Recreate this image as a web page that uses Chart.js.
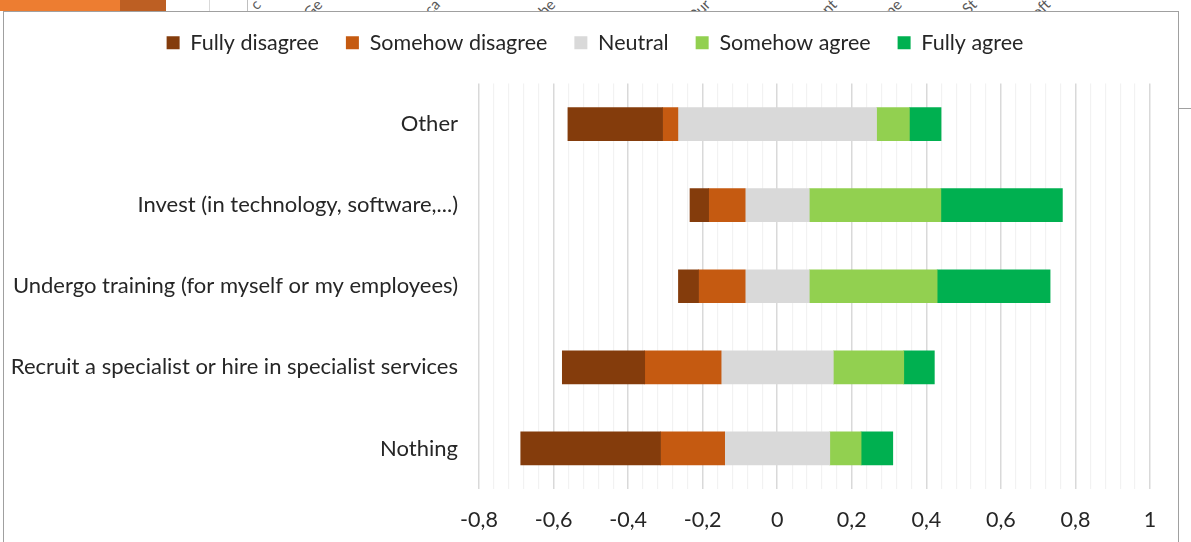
<!DOCTYPE html>
<html lang="en">

<head>
    <meta charset="UTF-8">
    <title>Measures</title>
    <script src="https://cdn.jsdelivr.net/npm/chart.js"></script>
    <style>
        body { margin: 0; background: #fff; width: 1191px; height: 542px; overflow: hidden; position: relative; }
        .bgstrip { position: absolute; left: 0; top: 0; width: 1191px; height: 11px; overflow: hidden; }
        .bgstrip div { position: absolute; top: 0; height: 11px; }
        .bgstrip span { position: absolute; font-family: Lato, sans-serif; font-size: 15px; line-height: 16px; color: #595959; transform: rotate(-45deg); transform-origin: right bottom; white-space: nowrap; }
        .frame { position: absolute; left: 3px; top: 11px; width: 1174px; height: 560px; border: 1px solid #a0a0a0; background: #fff; }
        .sideline { position: absolute; left: 1178px; top: 108px; width: 13px; height: 1px; background: #a0a0a0; }
        #myChart { position: absolute; left: 0; top: 0; }
    </style>
</head>

<body>
    <!-- bits of the chart behind -->
    <div class="bgstrip">
        <div style="left:0;width:120px;background:#ED7D31"></div>
        <div style="left:120px;width:46px;background:#BD5F23"></div>
        <div style="left:209px;width:1px;background:#d9d9d9"></div>
        <div style="left:247px;width:1px;background:#bfbfbf"></div>
        <span style="left:256px;top:-9px">c</span>
        <span style="left:306px;top:-9px">Ge</span>
        <span style="left:420px;top:-9px">eca</span>
        <span style="left:536px;top:-9px">the</span>
        <span style="left:690px;top:-9px">Pur</span>
        <span style="left:818px;top:-9px">ant</span>
        <span style="left:884px;top:-9px">me</span>
        <span style="left:966px;top:-9px">St</span>
        <span style="left:1034px;top:-9px">oft</span>
    </div>
    <div class="sideline"></div>
    <div class="frame"></div>

    <canvas id="myChart" width="1191" height="542"></canvas>

    <script>
        // categories (top to bottom) and shares per answer
        const categories = [
            'Other',
            'Invest (in technology, software,...)',
            'Undergo training (for myself or my employees)',
            'Recruit a specialist or hire in specialist services',
            'Nothing'
        ];
        const fullyDisagree = [0.254, 0.050, 0.054, 0.221, 0.375];
        const somehowDisagree = [0.041, 0.098, 0.125, 0.205, 0.172];
        const neutral = [0.533, 0.172, 0.172, 0.301, 0.282];
        const somehowAgree = [0.088, 0.353, 0.343, 0.189, 0.084];
        const fullyAgree = [0.085, 0.326, 0.303, 0.082, 0.085];

        const xTicks = [-0.8, -0.6, -0.4, -0.2, 0, 0.2, 0.4, 0.6, 0.8, 1];

        // diverging layout: neutral centred on zero
        const segments = [
            { label: 'Fully disagree', values: fullyDisagree, color: '#843C0C' },
            { label: 'Somehow disagree', values: somehowDisagree, color: '#C55A11' },
            { label: 'Neutral', values: neutral, color: '#D9D9D9' },
            { label: 'Somehow agree', values: somehowAgree, color: '#92D050' },
            { label: 'Fully agree', values: fullyAgree, color: '#00B050' }
        ];

        const datasets = segments.map((seg, s) => ({
            label: seg.label,
            backgroundColor: seg.color,
            borderWidth: 0,
            grouped: false,
            barThickness: 33,
            data: categories.map((c, i) => {
                let start = -(neutral[i] / 2 + somehowDisagree[i] + fullyDisagree[i]);
                for (let k = 0; k < s; k++) start += segments[k].values[i];
                return [start, start + seg.values[i]];
            })
        }));

        function isMajor(v) {
            return xTicks.some(t => Math.abs(t - v) < 1e-6);
        }

        // extra space under the legend, legend centred on the whole frame
        const legendGap = {
            id: 'legendGap',
            beforeInit(chart) {
                const legend = chart.legend;
                const fit = legend.fit;
                legend.fit = function () {
                    fit.call(this);
                    this.height += 22;
                };
                const draw = legend.draw;
                legend.draw = function () {
                    chart.ctx.save();
                    chart.ctx.translate(20, 2);
                    draw.call(this);
                    chart.ctx.restore();
                };
            }
        };

        const ctx = document.getElementById('myChart').getContext('2d');
        const myChart = new Chart(ctx, {
            type: 'bar',
            data: { labels: categories, datasets: datasets },
            plugins: [legendGap],
            options: {
                indexAxis: 'y',
                responsive: false,
                animation: false,
                layout: { padding: { top: 3, right: 41, bottom: 0, left: 0 } },
                plugins: {
                    tooltip: { enabled: false },
                    legend: {
                        position: 'top',
                        labels: {
                            boxWidth: 13,
                            boxHeight: 13,
                            padding: 27,
                            color: '#262626',
                            font: { family: 'Lato', size: 21.5 }
                        }
                    }
                },
                scales: {
                    x: {
                        min: -0.8,
                        max: 1,
                        afterFit: (scale) => { scale.height = 53; },
                        afterBuildTicks: (scale) => {
                            const ticks = [];
                            for (let k = 0; k <= 45; k++) ticks.push({ value: Math.round((-0.8 + k * 0.04) * 100) / 100 });
                            scale.ticks = ticks;
                        },
                        border: { display: false },
                        grid: {
                            drawTicks: false,
                            color: (c) => isMajor(c.tick.value) ? '#D9D9D9' : '#F2F2F2',
                            lineWidth: (c) => isMajor(c.tick.value) ? 1.5 : 1.2
                        },
                        ticks: {
                            autoSkip: false,
                            maxRotation: 0,
                            padding: 18,
                            color: '#262626',
                            font: { family: 'Lato', size: 21.5 },
                            callback: (v) => isMajor(v) ? String(Math.round(v * 10) / 10).replace('.', ',') : ''
                        }
                    },
                    y: {
                        afterFit: (scale) => { scale.width = 479; },
                        border: { display: false },
                        grid: { display: false, drawTicks: false },
                        ticks: {
                            padding: 21,
                            color: '#262626',
                            font: { family: 'Lato', size: 22 }
                        }
                    }
                }
            }
        });
    </script>
</body>

</html>
